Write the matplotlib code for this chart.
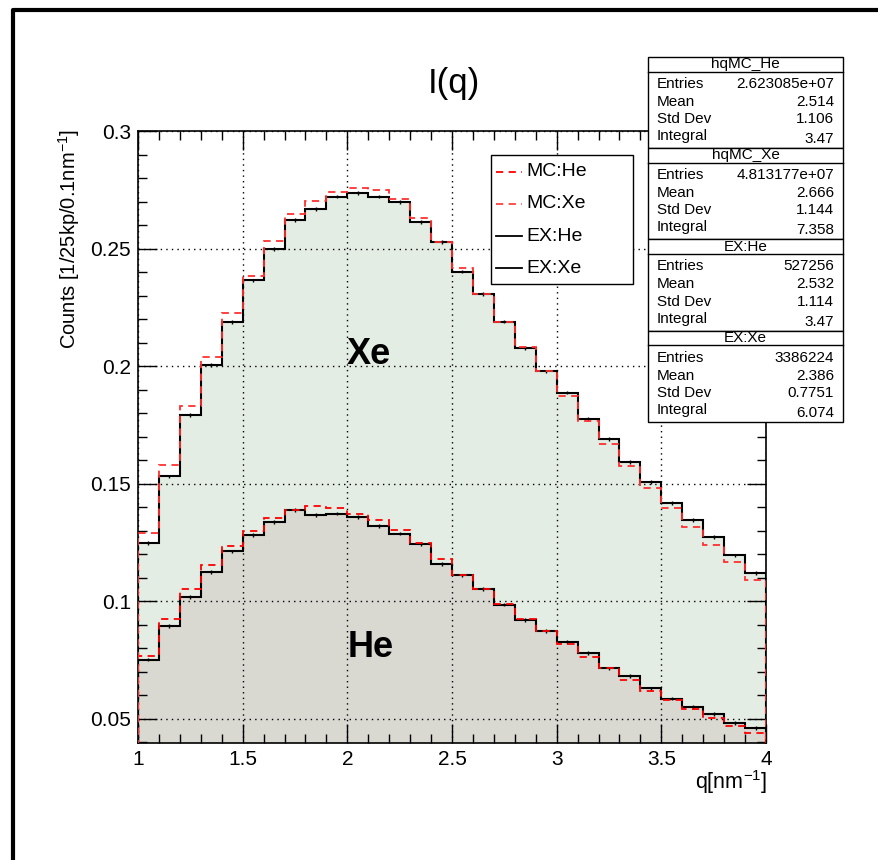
import numpy as np
import matplotlib.pyplot as plt
from matplotlib.lines import Line2D
from matplotlib.patches import Rectangle

plt.rcParams['font.family'] = ['Liberation Sans', 'DejaVu Sans']
plt.rcParams['mathtext.fontset'] = 'custom'
plt.rcParams['mathtext.rm'] = 'Liberation Sans'
plt.rcParams['mathtext.it'] = 'Liberation Sans:italic'

# bin edges q [nm^-1], 30 bins of 0.1
edges = np.linspace(1.0, 4.0, 31)

# experimental (black) and MC (red dashed) histograms
ex_xe = [0.1248, 0.1530, 0.1793, 0.2005, 0.2187, 0.2364, 0.2498, 0.2622, 0.2668, 0.2721,
         0.2735, 0.2721, 0.2697, 0.2614, 0.2529, 0.2402, 0.2307, 0.2189, 0.2076, 0.1977,
         0.1887, 0.1774, 0.1689, 0.1591, 0.1506, 0.1417, 0.1346, 0.1271, 0.1194, 0.1118]
mc_xe = [0.1288, 0.1580, 0.1832, 0.2038, 0.2225, 0.2385, 0.2532, 0.2647, 0.2704, 0.2739,
         0.2756, 0.2749, 0.2711, 0.2631, 0.2529, 0.2419, 0.2307, 0.2189, 0.2083, 0.1977,
         0.1873, 0.1767, 0.1668, 0.1573, 0.1481, 0.1398, 0.1313, 0.1237, 0.1165, 0.1091]
ex_he = [0.0751, 0.0895, 0.1017, 0.1122, 0.1211, 0.1282, 0.1335, 0.1386, 0.1366, 0.1372,
         0.1357, 0.1318, 0.1287, 0.1243, 0.1159, 0.1109, 0.1051, 0.0985, 0.0918, 0.0874,
         0.0825, 0.0779, 0.0713, 0.0680, 0.0628, 0.0585, 0.0549, 0.0521, 0.0480, 0.0459]
mc_he = [0.0765, 0.0924, 0.1053, 0.1152, 0.1234, 0.1298, 0.1352, 0.1389, 0.1403, 0.1396,
         0.1372, 0.1343, 0.1304, 0.1247, 0.1180, 0.1111, 0.1051, 0.0987, 0.0925, 0.0872,
         0.0818, 0.0761, 0.0713, 0.0663, 0.0619, 0.0578, 0.0539, 0.0504, 0.0468, 0.0437]
ex_err = [0.0008] * 30

# stat boxes
stat_names = ["hqMC_He", "hqMC_Xe", "EX:He", "EX:Xe"]
stat_entries = ["2.623085e+07", "4.813177e+07", "527256", "3386224"]
stat_mean = ["2.514", "2.666", "2.532", "2.386"]
stat_std = ["1.106", "1.144", "1.114", "0.7751"]
stat_integral = ["3.47", "7.358", "3.47", "6.074"]

legend_labels = ["MC:He", "MC:Xe", "EX:He", "EX:Xe"]

W, H = 879, 860
def fx(x):
    return x / W
def fy(y):
    return 1 - y / H

fig = plt.figure(figsize=(W / 100, H / 100), dpi=100)
ax = fig.add_axes([fx(138), fy(743), (766 - 138) / W, (743 - 131) / H])

centers = 0.5 * (edges[:-1] + edges[1:])

# fills
ax.stairs(ex_xe, edges, fill=True, color='#e4ede4', baseline=0, zorder=1)
ax.stairs(ex_he, edges, fill=True, color='#d9d8d1', baseline=0, zorder=1.1)

# outlines
ax.stairs(ex_xe, edges, baseline=0, color='black', lw=1.5, zorder=3)
ax.stairs(ex_he, edges, baseline=0, color='black', lw=1.5, zorder=3)
ax.errorbar(centers, ex_xe, yerr=ex_err, fmt='none', ecolor='black', elinewidth=1, zorder=3)
ax.errorbar(centers, ex_he, yerr=ex_err, fmt='none', ecolor='black', elinewidth=1, zorder=3)
ax.stairs(mc_he, edges, baseline=0, color='red', lw=1.3, ls=(0, (4, 3)), zorder=4)
ax.stairs(mc_xe, edges, baseline=0, color='#ff3030', lw=1.3, ls=(0, (4, 3)), zorder=4)

ax.set_xlim(1, 4)
ax.set_ylim(0.0396, 0.3)
ax.set_xticks([1, 1.5, 2, 2.5, 3, 3.5, 4])
ax.set_xticklabels(['1', '1.5', '2', '2.5', '3', '3.5', '4'])
ax.set_yticks([0.05, 0.1, 0.15, 0.2, 0.25, 0.3])
ax.set_yticklabels(['0.05', '0.1', '0.15', '0.2', '0.25', '0.3'])
ax.set_xticks(np.arange(1, 4.001, 0.1), minor=True)
ax.set_yticks(np.arange(0.04, 0.3001, 0.01), minor=True)
ax.tick_params(which='both', direction='in', top=True, right=True, width=1)
ax.tick_params(which='major', length=13.5, labelsize=15, pad=5)
ax.tick_params(which='minor', length=6.5)
ax.set_axisbelow(False)
ax.grid(True, which='major', ls=(0, (1, 3)), color='black', lw=1)
for s in ax.spines.values():
    s.set_linewidth(1.2)

ax.text(2.104, 0.2048, 'Xe', fontsize=26, fontweight='bold', ha='center', va='center', zorder=5)
ax.text(2.113, 0.0802, 'He', fontsize=26, fontweight='bold', ha='center', va='center', zorder=5)

# titles
fig.text(fx(454), fy(83), 'I(q)', fontsize=25, ha='center', va='center')
fig.text(fx(767), fy(782), r'q[nm$^{-1}$]', fontsize=15.5, ha='right', va='center')
fig.text(fx(69), fy(129), r'Counts [1/25kp/0.1nm$^{-1}$]', fontsize=14.5, rotation=90,
         ha='center', va='top')

# legend box
fig.add_artist(Rectangle((fx(491), fy(284)), (633 - 491) / W, (284 - 155) / H,
                         transform=fig.transFigure, facecolor='white', edgecolor='black', lw=1, zorder=10))
leg_styles = [('red', (0, (4, 3))), ('#ff4040', (0, (4, 3))), ('black', '-'), ('black', '-')]
for i, lab in enumerate(legend_labels):
    yy = 171.7 + i * 32.2
    c, ls = leg_styles[i]
    fig.add_artist(Line2D([fx(496), fx(522)], [fy(yy), fy(yy)], transform=fig.transFigure,
                          color=c, ls=ls, lw=1.3, zorder=11))
    fig.text(fx(526), fy(yy), lab, fontsize=14, ha='left', va='center', zorder=11)

# stat boxes
box_l, box_r = 648, 843
block_h = 91.3
top0 = 56.7
for i in range(4):
    t = top0 + i * block_h
    fig.add_artist(Rectangle((fx(box_l), fy(t + block_h)), (box_r - box_l) / W, block_h / H,
                             transform=fig.transFigure, facecolor='white', edgecolor='black', lw=1, zorder=10))
    fig.add_artist(Line2D([fx(box_l), fx(box_r)], [fy(t + 14.8), fy(t + 14.8)], transform=fig.transFigure,
                          color='black', lw=1, zorder=11))
    fig.text(fx((box_l + box_r) / 2), fy(t + 7.5), stat_names[i], fontsize=11, ha='center', va='center', zorder=11)
    rows = [("Entries", stat_entries[i], 27), ("Mean", stat_mean[i], 45),
            ("Std Dev", stat_std[i], 62.5), ("Integral", stat_integral[i], 79.5)]
    for lab, val, off in rows:
        fig.text(fx(657), fy(t + off), lab, fontsize=11, ha='left', va='center', zorder=11)
        voff = off + 3 if lab == "Integral" else off
        fig.text(fx(834), fy(t + voff), val, fontsize=11, ha='right', va='center', zorder=11)

# outer frame (top and left)
fig.add_artist(Line2D([fx(13), fx(13), 1], [0, fy(10), fy(10)], transform=fig.transFigure,
                      color='black', lw=3, solid_joinstyle='round'))

fig.savefig('out.png', dpi=100)
